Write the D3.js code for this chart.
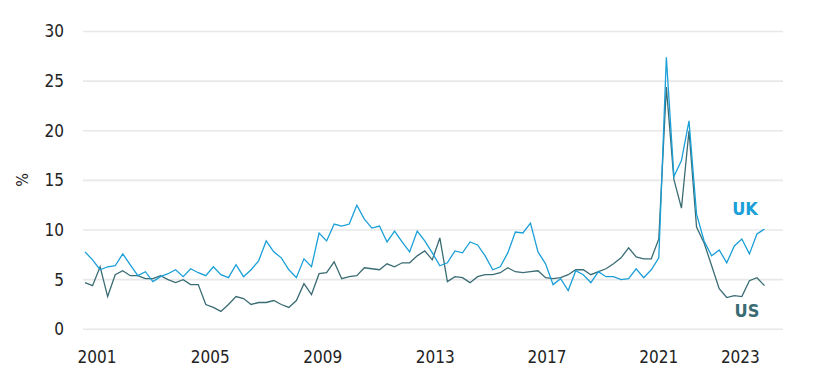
<!DOCTYPE html>
<html>
<head>
<meta charset="utf-8">
<script src="https://cdn.jsdelivr.net/npm/d3@7"></script>
<style>
  body { margin: 0; background: #fff; }
  text { font-family: "Liberation Sans Narrow", "DejaVu Sans Condensed", "Roboto", sans-serif; }
</style>
</head>
<body>
<div id="chart"></div>
<script>
// quarterly, 2001 Q1 .. 2023 Q3
var uk = [7.8, 7.0, 6.0, 6.3, 6.4, 7.6, 6.5, 5.4, 5.8, 4.8,
          5.3, 5.6, 6.0, 5.3, 6.1, 5.7, 5.4, 6.3, 5.5, 5.2,
          6.5, 5.3, 6.0, 6.9, 8.9, 7.8, 7.2, 6.0, 5.2, 7.1,
          6.3, 9.7, 8.9, 10.6, 10.4, 10.6, 12.5, 11.1, 10.2, 10.4,
          8.8, 9.9, 8.8, 7.8, 9.9, 8.9, 7.7, 6.4, 6.7, 7.9,
          7.7, 8.8, 8.5, 7.4, 6.0, 6.3, 7.7, 9.8, 9.7, 10.7,
          7.8, 6.6, 4.5, 5.1, 3.9, 5.9, 5.5, 4.7, 5.8, 5.3,
          5.3, 5.0, 5.1, 6.1, 5.2, 6.0, 7.2, 27.4, 15.4, 17.0,
          21.0, 11.6, 8.9, 7.4, 8.0, 6.7, 8.4, 9.1, 7.6, 9.6,
          10.1];
var us = [4.7, 4.4, 6.3, 3.3, 5.5, 5.9, 5.4, 5.4, 5.1, 5.1,
          5.4, 5.0, 4.7, 5.0, 4.5, 4.5, 2.5, 2.2, 1.8, 2.5,
          3.3, 3.1, 2.5, 2.7, 2.7, 2.9, 2.5, 2.2, 2.9, 4.6,
          3.5, 5.6, 5.7, 6.8, 5.1, 5.3, 5.4, 6.2, 6.1, 6.0,
          6.6, 6.3, 6.7, 6.7, 7.4, 7.9, 7.0, 9.2, 4.8, 5.3,
          5.2, 4.7, 5.3, 5.5, 5.5, 5.7, 6.2, 5.8, 5.7, 5.8,
          5.9, 5.2, 5.1, 5.2, 5.5, 6.0, 6.0, 5.5, 5.8, 6.1,
          6.6, 7.2, 8.2, 7.3, 7.1, 7.1, 9.1, 24.4, 15.1, 12.2,
          20.0, 10.3, 8.7, 6.4, 4.1, 3.2, 3.4, 3.3, 4.9, 5.2,
          4.4];
var yTicks = [0, 5, 10, 15, 20, 25, 30];
var xTickLabels = ["2001", "2005", "2009", "2013", "2017", "2021", "2023"];
var xTickPos = [1.6, 16.6, 31.5, 46.4, 61.2, 76.0, 86.8]; // in quarter index units

var width = 826, height = 392;
var plotLeft = 83, plotRight = 783;

var svg = d3.select("#chart").append("svg")
    .attr("width", width)
    .attr("height", height);

var x = d3.scaleLinear()
    .domain([0, uk.length - 1])
    .range([85, 764.5]);
var y = d3.scaleLinear()
    .domain([0, 30])
    .range([329.3, 31.5]);

// gridlines
svg.append("g").selectAll("line")
    .data(yTicks)
    .enter().append("line")
    .attr("x1", plotLeft)
    .attr("x2", plotRight)
    .attr("y1", function(d) { return y(d); })
    .attr("y2", function(d) { return y(d); })
    .style("stroke", "#e8e8e8")
    .style("stroke-width", 1.6);

// y labels
svg.append("g").selectAll("text")
    .data(yTicks)
    .enter().append("text")
    .attr("x", 64)
    .attr("y", function(d) { return y(d); })
    .attr("dy", "0.35em")
    .attr("text-anchor", "end")
    .style("font-size", "17px")
    .style("fill", "#222")
    .text(function(d) { return d; });

// x labels
svg.append("g").selectAll("text")
    .data(xTickLabels)
    .enter().append("text")
    .attr("x", function(d, i) { return x(xTickPos[i]); })
    .attr("y", 357)
    .attr("dy", "0.35em")
    .attr("text-anchor", "middle")
    .style("font-size", "17px")
    .style("fill", "#222")
    .text(function(d) { return d; });

// axis title
svg.append("text")
    .attr("transform", "translate(22,180) rotate(-90)")
    .attr("text-anchor", "middle")
    .attr("dy", "0.35em")
    .style("font-size", "16px")
    .style("fill", "#222")
    .text("%");

var line = d3.line()
    .x(function(d, i) { return x(i); })
    .y(function(d) { return y(d); });

svg.append("path")
    .datum(us)
    .attr("d", line)
    .style("fill", "none")
    .style("stroke", "#3a6c74")
    .style("stroke-width", 1.3);

svg.append("path")
    .datum(uk)
    .attr("d", line)
    .style("fill", "none")
    .style("stroke", "#1a9fd8")
    .style("stroke-width", 1.3);

// series labels
svg.append("text")
    .attr("x", 745)
    .attr("y", 209)
    .attr("dy", "0.35em")
    .attr("text-anchor", "middle")
    .style("font-size", "18px")
    .style("font-weight", "bold")
    .style("fill", "#1a9fd8")
    .text("UK");

svg.append("text")
    .attr("x", 747)
    .attr("y", 311)
    .attr("dy", "0.35em")
    .attr("text-anchor", "middle")
    .style("font-size", "18px")
    .style("font-weight", "bold")
    .style("fill", "#3a6c74")
    .text("US");
</script>
</body>
</html>
